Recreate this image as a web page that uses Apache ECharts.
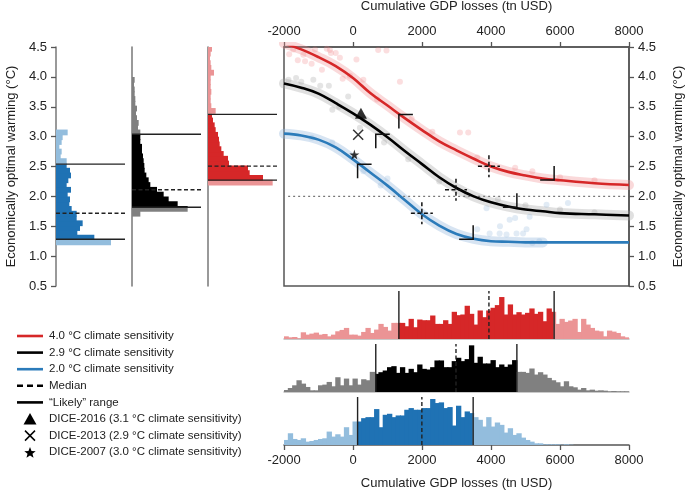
<!DOCTYPE html>
<html><head><meta charset="utf-8">
<script src="https://cdn.jsdelivr.net/npm/echarts@6/dist/echarts.min.js"></script>
<style>html,body{margin:0;padding:0;background:#fff}#c{width:685px;height:492px}</style>
</head><body><div id="c"></div>
<script>
// ---------------- DATA ----------------
const gdpMin = -2000, gdpMax = 8000, gdpStep = 2000;
const warmMin = 0.5, warmMax = 4.5, warmStep = 0.5;
const targetWarming = 2.0;

const curveX     = [-2000,-1500,-1000,-500,0,500,1000,1500,2000,2500,3000,3500,4000,4500,5000,5500,6000,7000,8000];
const curveRed   = [4.56,4.46,4.33,4.18,3.98,3.73,3.52,3.31,3.11,2.92,2.77,2.63,2.50,2.41,2.35,2.30,2.27,2.22,2.19];
const curveBlack = [3.89,3.82,3.72,3.56,3.39,3.20,2.99,2.76,2.54,2.32,2.14,2.00,1.90,1.83,1.78,1.75,1.72,1.70,1.68];
const curveBlue  = [3.05,3.02,2.95,2.82,2.62,2.40,2.18,1.94,1.70,1.51,1.37,1.29,1.25,1.24,1.23,1.23,1.23,1.23,1.23];
const blueScatterMaxX = 5500;

const ptsRed = [[-1730,4.46],[-1440,4.37],[-1390,4.26],[-1100,4.46],[-760,4.47],[-670,4.45],[-640,4.40],[-500,4.40],[-380,4.32],[100,4.29],[-90,4.02],[730,4.45],[970,4.44],[1360,3.92],[3100,3.07],[3340,3.07],[-1850,4.38],[-1600,4.28],[-1200,4.22],[-900,4.12],[-300,3.97],[300,3.95],[700,3.62],[1700,3.30],[2300,3.08],[3600,2.65],[4700,2.48],[5200,2.42],[6000,2.32],[7000,2.27]];
const ptsBlack = [[-1870,3.95],[-1650,3.98],[-1150,3.95],[-950,3.85],[-700,3.85],[-140,3.67],[-400,3.50],[-1500,3.92],[300,3.30],[200,3.15],[-600,3.45],[900,2.90],[1600,2.62],[2500,2.25],[3300,2.02],[4200,1.95],[5000,1.85],[6000,1.78],[7000,1.73]];
const ptsBlue = [[3870,1.80],[4260,1.50],[4540,1.61],[4700,1.64],[5120,1.66],[5610,1.86],[6230,1.89],[3960,1.38],[4250,1.38],[4450,1.36],[4740,1.38],[4930,1.38],[5030,1.45],[3600,1.45],[-1200,2.98],[-600,2.90],[300,2.42],[800,2.18],[1000,2.30],[5400,1.25],[5200,1.22]];

const dice2016 = [230, 3.39];
const dice2013 = [150, 3.03];
const dice2007 = [40, 2.70];

const gdpLikelyRed = [1330, 5830], gdpLikelyBlack = [660, 4750], gdpLikelyBlue = [133, 3483];
const gdpMedianRed = 3940, gdpMedianBlack = 2985, gdpMedianBlue = 1996;
const warmLikelyRed = [2.272, 3.372], warmLikelyBlack = [1.817, 3.039], warmLikelyBlue = [1.283, 2.539];
const warmMedianRed = 2.506, warmMedianBlack = 2.111, warmMedianBlue = 1.717;

const gdpBinStart = -2000, gdpBinWidth = 125;
const gdpHistRed = [8,5,6,2,20,13,16,19,13,15, 8,13,23,27,33,13,13,10,21,33, 18,28,45,36,25,48,48,48,38,60, 35,58,56,56,70,45,45,56,45,81, 71,73,99,75,43,85,65,85,93,101, 125,73,103,73,80,73,78,91,75,81, 53,91,81,45,60,51,55,60,21,60, 43,33,25,23,8,25,22,18,8,5];
const gdpHistBlack = [6,12,20,35,25,15,5,5,20,22, 30,17,44,20,40,20,40,22,38,35, 60,54,59,64,74,77,57,74,57,69, 59,82,69,67,74,94,94,74,74,92, 102,92,98,139,87,105,85,85,95,74, 82,75,82,95,60,60,57,70,52,59, 52,42,35,29,17,32,17,14,7,12, 5,7,4,5,4,2,3,2,2,2];
const gdpHistBlue = [15,35,18,15,20,10,12,15,18,20, 40,25,32,25,53,30,70,70,80,83, 83,107,53,90,93,83,88,88,105,110, 105,105,110,110,137,125,127,110,113,58, 117,83,100,95,83,75,55,83,55,67, 60,37,50,30,35,22,15,10,5,5, 2,2,2,2,1,2,1,0,0,0, 0,0,0,0,0,0,0,0,0,0];
const histMax = 143;

const warmBinWidth = 0.08;
const warmBinStartRed = 2.19, warmBinStartBlack = 1.67, warmBinStartBlue = 1.19;
const warmHistBlue = [165,115,64,72,80,62,62,47,40,42, 35,45,32,37,45,42,32,32,14,17, 10,17,20,35];
const warmHistBlack = [25,167,137,110,95,75,55,50,43,38, 37,35,33,30,30,25,25,25,18,20, 15,12,15,10,10,8,8,6,8];
const warmHistRed = [194,165,125,120,63,60,47,40,35,33, 30,23,20,15,12,23,10,8,8,10, 8,8,8,18,10,8,6,8,12];
const sideMax = 207;

const legendLabels = ['4.0 \u00B0C climate sensitivity','2.9 \u00B0C climate sensitivity','2.0 \u00B0C climate sensitivity','Median','\u201CLikely\u201D range','DICE-2016 (3.1 \u00B0C climate sensitivity)','DICE-2013 (2.9 \u00B0C climate sensitivity)','DICE-2007 (3.0 \u00B0C climate sensitivity)'];
const xAxisTitle = 'Cumulative GDP losses (tn USD)';
const yAxisTitle = 'Economically optimal warming (\u00B0C)';

// ---------------- STYLE ----------------
const FONT = 'Liberation Sans, Arial, Helvetica, sans-serif';
const COL = {
  red:'#d62728', redLight:'#eb9495', redPt:'rgba(240,128,132,0.32)',
  black:'#000000', gray:'#808080', grayPt:'rgba(150,150,150,0.32)',
  blue:'#1f72b4', blueLine:'#2b7bba', blueLight:'#93bddd', bluePt:'rgba(140,178,218,0.32)'
};
const AX = '#555';

const chart = echarts.init(document.getElementById('c'), null, {renderer:'canvas'});

function zipXY(xs, ys){ return xs.map((x,i)=>[x, ys[i]]); }
function splitSeg(a,b,lh){
  const lo=lh[0], hi=lh[1];
  const pts=[a]; if(lo>a&&lo<b)pts.push(lo); if(hi>a&&hi<b)pts.push(hi); pts.push(b);
  const out=[]; for(let i=0;i<pts.length-1;i++){const m=(pts[i]+pts[i+1])/2; out.push([pts[i],pts[i+1], m>=lo&&m<=hi]);}
  return out;
}

function gdpHist(ax, vals, likely, dark, light){
  return {type:'custom', xAxisIndex:ax, yAxisIndex:ax, clip:true, silent:true,
    data: vals.map((h,i)=>[gdpBinStart+i*gdpBinWidth, h]),
    renderItem(params, api){
      const s=api.value(0), h=api.value(1);
      if(!(h>0)) return null;
      return {type:'group', children: splitSeg(s, s+gdpBinWidth, likely).map(seg=>{
        const p0=api.coord([seg[0],0]), p1=api.coord([seg[1],h]);
        return {type:'rect', shape:{x:p0[0]-0.5, y:p1[1], width:p1[0]-p0[0]+1, height:p0[1]-p1[1]}, style:{fill: seg[2]?dark:light}};
      })};
    }};
}
function gdpLines(ax, likely, med){
  return {type:'custom', xAxisIndex:ax, yAxisIndex:ax, clip:false, silent:true, z:5,
    data:[[likely[0],0],[likely[1],0],[med,1]],
    renderItem(params, api){
      const x=api.value(0), k=api.value(1);
      const p0=api.coord([x,0]), p1=api.coord([x,histMax]);
      return {type:'line', shape:{x1:p0[0],y1:p0[1],x2:p1[0],y2:p1[1]},
        style:{stroke:'#222', lineWidth:1.4, lineDash: k? [4,2.5] : null}};
    }};
}
function warmHist(ax, start, vals, likely, dark, light){
  return {type:'custom', xAxisIndex:ax, yAxisIndex:ax, clip:true, silent:true,
    data: vals.map((w,i)=>[start+i*warmBinWidth, w]),
    renderItem(params, api){
      const s=api.value(0), w=api.value(1);
      if(!(w>0)) return null;
      return {type:'group', children: splitSeg(s, s+warmBinWidth, likely).map(seg=>{
        const p0=api.coord([0,seg[0]]), p1=api.coord([w,seg[1]]);
        return {type:'rect', shape:{x:p0[0], y:p1[1]-0.5, width:p1[0]-p0[0], height:p0[1]-p1[1]+1}, style:{fill: seg[2]?dark:light}};
      })};
    }};
}
function warmLines(ax, likely, med){
  return {type:'custom', xAxisIndex:ax, yAxisIndex:ax, clip:false, silent:true, z:5,
    data:[[likely[0],0],[likely[1],0],[med,1]],
    renderItem(params, api){
      const y=api.value(0), k=api.value(1);
      const p0=api.coord([0,y]), p1=api.coord([sideMax,y]);
      return {type:'line', shape:{x1:p0[0],y1:p0[1],x2:p1[0],y2:p1[1]},
        style:{stroke:'#222', lineWidth:1.4, lineDash: k? [4,2.5] : null}};
    }};
}

const labelStyle = {color:'#222', fontSize:13, fontFamily:FONT};
const nameStyle = {color:'#222', fontSize:13, fontFamily:FONT};

const G = {outerBoundsMode:'none', containLabel:false};
const grids = [
  Object.assign({left:284, top:47, width:345, height:239, show:true, borderColor:AX, borderWidth:1.5, backgroundColor:'transparent'}, G),
  Object.assign({left:56, top:47, width:69, height:239}, G),
  Object.assign({left:132, top:47, width:69, height:239}, G),
  Object.assign({left:208, top:47, width:69, height:239}, G),
  Object.assign({left:284, top:291, width:345, height:48}, G),
  Object.assign({left:284, top:344, width:345, height:48}, G),
  Object.assign({left:284, top:397, width:345, height:48}, G)
];

const xAxes = [
  {gridIndex:0, type:'value', position:'top', min:gdpMin, max:gdpMax, interval:gdpStep,
   axisLine:{show:true, onZero:false, lineStyle:{color:AX, width:1.5}}, axisTick:{show:true, inside:false, length:5, lineStyle:{color:AX, width:1.3}},
   axisLabel:Object.assign({margin:9, formatter:v=>String(v)}, labelStyle), splitLine:{show:false},
   name:xAxisTitle, nameLocation:'middle', nameGap:34, nameTextStyle:nameStyle},
  {gridIndex:1, type:'value', min:0, max:sideMax, show:false},
  {gridIndex:2, type:'value', min:0, max:sideMax, show:false},
  {gridIndex:3, type:'value', min:0, max:sideMax, show:false},
  {gridIndex:4, type:'value', min:gdpMin, max:gdpMax, axisLine:{show:true, onZero:false, lineStyle:{color:'#b8b8b8', width:1.5}}, axisTick:{show:false}, axisLabel:{show:false}, splitLine:{show:false}},
  {gridIndex:5, type:'value', min:gdpMin, max:gdpMax, axisLine:{show:true, onZero:false, lineStyle:{color:'#b8b8b8', width:1.5}}, axisTick:{show:false}, axisLabel:{show:false}, splitLine:{show:false}},
  {gridIndex:6, type:'value', position:'bottom', min:gdpMin, max:gdpMax, interval:gdpStep,
   axisLine:{show:true, onZero:false, lineStyle:{color:AX, width:1.5}}, axisTick:{show:true, length:5, lineStyle:{color:AX, width:1.3}},
   axisLabel:Object.assign({margin:9, formatter:v=>String(v)}, labelStyle), splitLine:{show:false},
   name:xAxisTitle, nameLocation:'middle', nameGap:32, nameTextStyle:nameStyle}
];
const yAxes = [
  {gridIndex:0, type:'value', position:'right', min:warmMin, max:warmMax, interval:warmStep,
   axisLine:{show:true, onZero:false, lineStyle:{color:AX, width:1.5}}, axisTick:{show:true, length:5, lineStyle:{color:AX, width:1.3}},
   axisLabel:Object.assign({margin:9, formatter:v=>v.toFixed(1)}, labelStyle), splitLine:{show:false},
   name:yAxisTitle, nameLocation:'middle', nameGap:43, nameRotate:90, nameTextStyle:nameStyle},
  {gridIndex:1, type:'value', position:'left', min:warmMin, max:warmMax, interval:warmStep,
   axisLine:{show:true, onZero:false, lineStyle:{color:'#777', width:1.5}}, axisTick:{show:true, length:5, lineStyle:{color:AX, width:1.3}},
   axisLabel:Object.assign({margin:9, formatter:v=>v.toFixed(1)}, labelStyle), splitLine:{show:false},
   name:yAxisTitle, nameLocation:'middle', nameGap:38, nameRotate:90, nameTextStyle:nameStyle},
  {gridIndex:2, type:'value', position:'left', min:warmMin, max:warmMax, axisLine:{show:true, onZero:false, lineStyle:{color:'#777', width:1.5}}, axisTick:{show:false}, axisLabel:{show:false}, splitLine:{show:false}},
  {gridIndex:3, type:'value', position:'left', min:warmMin, max:warmMax, axisLine:{show:true, onZero:false, lineStyle:{color:'#777', width:1.5}}, axisTick:{show:false}, axisLabel:{show:false}, splitLine:{show:false}},
  {gridIndex:4, type:'value', min:0, max:histMax, show:false},
  {gridIndex:5, type:'value', min:0, max:histMax, show:false},
  {gridIndex:6, type:'value', min:0, max:histMax, show:false}
];

function band(data, color){
  return {type:'line', xAxisIndex:0, yAxisIndex:0, data, smooth:0.4, symbol:'none', silent:true, z:1,
    lineStyle:{color, width:10, cap:'round'}};
}
function pts(data, color){
  return {type:'scatter', xAxisIndex:0, yAxisIndex:0, data, symbolSize:6, silent:true, z:2, itemStyle:{color}};
}
function curve(data, color){
  return {type:'line', xAxisIndex:0, yAxisIndex:0, data, smooth:0.4, symbol:'none', silent:true, z:4,
    lineStyle:{color, width:2.6}};
}

const redXY = zipXY(curveX, curveRed), blackXY = zipXY(curveX, curveBlack), blueXY = zipXY(curveX, curveBlue);

const cornerData = [
  [gdpLikelyRed[0], warmLikelyRed[1], 0], [gdpLikelyRed[1], warmLikelyRed[0], 1], [gdpMedianRed, warmMedianRed, 2],
  [gdpLikelyBlack[0], warmLikelyBlack[1], 0], [gdpLikelyBlack[1], warmLikelyBlack[0], 1], [gdpMedianBlack, warmMedianBlack, 2],
  [gdpLikelyBlue[0], warmLikelyBlue[1], 0], [gdpLikelyBlue[1], warmLikelyBlue[0], 1], [gdpMedianBlue, warmMedianBlue, 2]
];

const STAR = 'path://M50,0L61,35L98,35L68,57L79,91L50,70L21,91L32,57L2,35L39,35Z';

const series = [
  band(redXY, 'rgba(240,140,144,0.33)'),
  band(blackXY, 'rgba(160,160,160,0.33)'),
  band(blueXY.filter(p=>p[0]<=blueScatterMaxX), 'rgba(150,185,222,0.38)'),
  pts(ptsRed, COL.redPt), pts(ptsBlack, COL.grayPt), pts(ptsBlue, COL.bluePt),
  {type:'line', xAxisIndex:0, yAxisIndex:0, data:[[gdpMin+120,targetWarming],[gdpMax-80,targetWarming]], symbol:'none', silent:true, z:3,
   lineStyle:{color:'#777', width:1.2, type:[2,3]}},
  curve(redXY, COL.red), curve(blackXY, COL.black), curve(blueXY, COL.blueLine),
  {type:'custom', xAxisIndex:0, yAxisIndex:0, data:cornerData, clip:false, silent:true, z:6,
   renderItem(params, api){
     const p=api.coord([api.value(0), api.value(1)]), k=api.value(2), L=14, H=11;
     const st={stroke:'#111', lineWidth:1.5, fill:null};
     if(k===0) return {type:'polyline', shape:{points:[[p[0]+L,p[1]],[p[0],p[1]],[p[0],p[1]+L]]}, style:st};
     if(k===1) return {type:'polyline', shape:{points:[[p[0]-L,p[1]],[p[0],p[1]],[p[0],p[1]-L]]}, style:st};
     const ds={stroke:'#111', lineWidth:1.5, lineDash:[4,2.5]};
     return {type:'group', children:[
       {type:'line', shape:{x1:p[0]-H,y1:p[1],x2:p[0]+H,y2:p[1]}, style:ds},
       {type:'line', shape:{x1:p[0],y1:p[1]-H,x2:p[0],y2:p[1]+H}, style:ds}]};
   }},
  {type:'scatter', xAxisIndex:0, yAxisIndex:0, data:[dice2016], symbol:'triangle', symbolSize:[12,11], z:7, silent:true, itemStyle:{color:'#000'}},
  {type:'scatter', xAxisIndex:0, yAxisIndex:0, data:[dice2013], symbol:'path://M0,0L10,10M10,0L0,10', symbolSize:10, z:7, silent:true,
   itemStyle:{color:'transparent', borderColor:'#000', borderWidth:1.5}},
  {type:'scatter', xAxisIndex:0, yAxisIndex:0, data:[dice2007], symbol:STAR, symbolSize:10, z:7, silent:true, itemStyle:{color:'#000'}},
  warmHist(1, warmBinStartBlue, warmHistBlue, warmLikelyBlue, COL.blue, COL.blueLight),
  warmHist(2, warmBinStartBlack, warmHistBlack, warmLikelyBlack, COL.black, COL.gray),
  warmHist(3, warmBinStartRed, warmHistRed, warmLikelyRed, COL.red, COL.redLight),
  warmLines(1, warmLikelyBlue, warmMedianBlue),
  warmLines(2, warmLikelyBlack, warmMedianBlack),
  warmLines(3, warmLikelyRed, warmMedianRed),
  gdpHist(4, gdpHistRed, gdpLikelyRed, COL.red, COL.redLight),
  gdpHist(5, gdpHistBlack, gdpLikelyBlack, COL.black, COL.gray),
  gdpHist(6, gdpHistBlue, gdpLikelyBlue, COL.blue, COL.blueLight),
  gdpLines(4, gdpLikelyRed, gdpMedianRed),
  gdpLines(5, gdpLikelyBlack, gdpMedianBlack),
  gdpLines(6, gdpLikelyBlue, gdpMedianBlue)
];

// legend (graphic)
const legY0 = 336, legDy = 16.6, legX = 49;
const legendGraphics = [];
const legendLineStyles = [
  {stroke:COL.red, lineWidth:2.6}, {stroke:'#000', lineWidth:2.6}, {stroke:COL.blueLine, lineWidth:2.6},
  {stroke:'#000', lineWidth:2.6, lineDash:[6,4]}, {stroke:'#000', lineWidth:2.6}
];
legendLabels.forEach((t,i)=>{
  const y = legY0 + i*legDy;
  if(i<5){
    legendGraphics.push({type:'line', shape:{x1:17,y1:y,x2:43,y2:y}, style:legendLineStyles[i]});
  } else if(i===5){
    legendGraphics.push({type:'polygon', shape:{points:[[30,y-6],[36.5,y+5.5],[23.5,y+5.5]]}, style:{fill:'#000'}});
  } else if(i===6){
    legendGraphics.push({type:'line', shape:{x1:25,y1:y-5,x2:35,y2:y+5}, style:{stroke:'#000', lineWidth:1.5}});
    legendGraphics.push({type:'line', shape:{x1:25,y1:y+5,x2:35,y2:y-5}, style:{stroke:'#000', lineWidth:1.5}});
  } else {
    const sp=[]; for(let k=0;k<10;k++){const r=k%2?2.6:6, a=-Math.PI/2+k*Math.PI/5; sp.push([30+r*Math.cos(a), y+0.8+r*Math.sin(a)]);}
    legendGraphics.push({type:'polygon', shape:{points:sp}, style:{fill:'#000'}});
  }
  legendGraphics.push({type:'text', x:legX, y:y, style:{text:t, fill:'#222', font:'11.5px '+FONT, verticalAlign:'middle', textAlign:'left'}});
});

chart.setOption({
  animation:false,
  backgroundColor:'#fff',
  textStyle:{fontFamily:FONT},
  grid:grids, xAxis:xAxes, yAxis:yAxes, series,
  graphic:legendGraphics
});
</script></body></html>
